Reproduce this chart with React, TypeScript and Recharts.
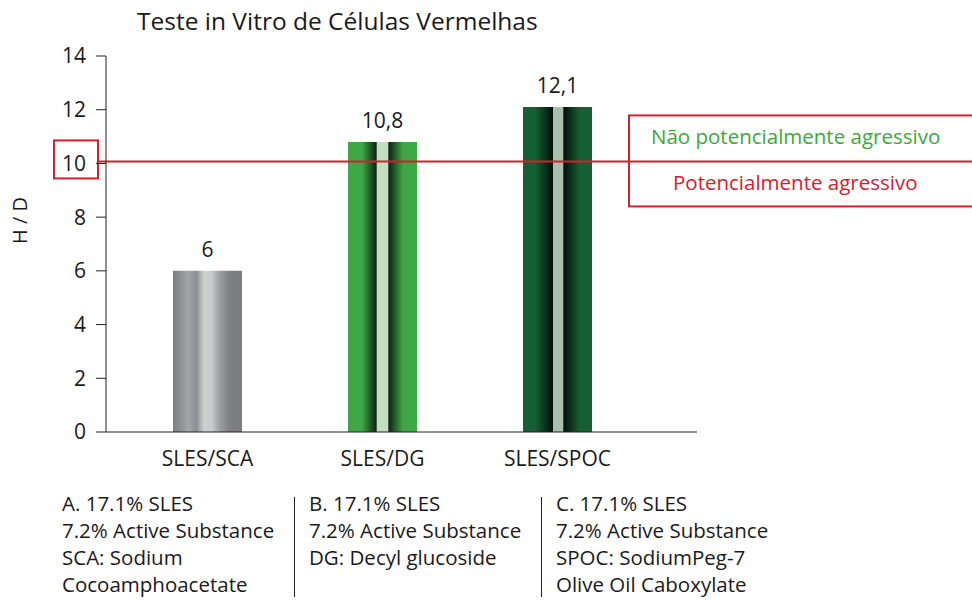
import React from "react";
import {
  BarChart,
  Bar,
  XAxis,
  YAxis,
  Cell,
  LabelList,
  ReferenceLine,
} from "recharts";

const categories = ["SLES/SCA", "SLES/DG", "SLES/SPOC"];
const hdValues = [6, 10.8, 12.1];
const yTicks = [0, 2, 4, 6, 8, 10, 12, 14];
const threshold = 10;
const aboveLabel = "Não potencialmente agressivo";
const belowLabel = "Potencialmente agressivo";
const notes = [
  ["A. 17.1% SLES", "7.2% Active Substance", "SCA: Sodium", "Cocoamphoacetate"],
  ["B. 17.1% SLES", "7.2% Active Substance", "DG: Decyl glucoside"],
  ["C. 17.1% SLES", "7.2% Active Substance", "SPOC: SodiumPeg-7", "Olive Oil Caboxylate"],
];

const data = categories.map((name, i) => ({ name, value: hdValues[i] }));

const FONT = "'Open Sans', Lato, sans-serif";
const RED = "#d3202f";
const GREEN = "#3aaa35";

// custom shape: threshold line + the two red boxes
const ThresholdShape = (props: any) => {
  const { x1, y1 } = props;
  const y = y1 - 2;
  return (
    <g>
      <line x1={x1 - 9} y1={y} x2={972} y2={y} stroke={RED} strokeWidth={2} />
      <rect x={x1 - 52} y={y - 21} width={44} height={38} fill="none" stroke={RED} strokeWidth={2} />
      <rect x={629} y={y - 46} width={360} height={91} fill="none" stroke={RED} strokeWidth={2} />
      <text x={651} y={y - 17} fill={GREEN} fontSize={20.5} fontFamily={FONT}>
        {aboveLabel}
      </text>
      <text x={673} y={y + 29} fill={RED} fontSize={20.5} fontFamily={FONT}>
        {belowLabel}
      </text>
    </g>
  );
};

export default function App() {
  return (
    <div style={{ position: "absolute", left: 0, top: 0, width: 972, height: 601, background: "#fff", fontFamily: FONT, color: "#1a1a1a" }}>
      <div style={{ position: "absolute", left: 137, top: 4, fontSize: 24.5 }}>
        Teste in Vitro de Células Vermelhas
      </div>
      <BarChart
        width={972}
        height={601}
        data={data}
        margin={{ top: 56, right: 275, left: 0, bottom: 139 }}
        style={{ position: "absolute", left: 0, top: 0 }}
      >
        <defs>
          <linearGradient id="g0" x1="0" y1="0" x2="1" y2="0">
            <stop offset="0%" stopColor="#7a7d80" />
            <stop offset="22%" stopColor="#a3a5a7" />
            <stop offset="34%" stopColor="#8d9093" />
            <stop offset="45%" stopColor="#cfd0d1" />
            <stop offset="56%" stopColor="#c9cacb" />
            <stop offset="68%" stopColor="#9c9ea0" />
            <stop offset="82%" stopColor="#7d8083" />
            <stop offset="100%" stopColor="#7a7d80" />
          </linearGradient>
          <linearGradient id="g1" x1="0" y1="0" x2="1" y2="0">
            <stop offset="0%" stopColor="#3fa846" />
            <stop offset="20%" stopColor="#3fa846" />
            <stop offset="41%" stopColor="#0b2612" />
            <stop offset="42%" stopColor="#c6dcc1" />
            <stop offset="58%" stopColor="#c6dcc1" />
            <stop offset="59%" stopColor="#0b2612" />
            <stop offset="80%" stopColor="#3fa846" />
            <stop offset="100%" stopColor="#3fa846" />
          </linearGradient>
          <linearGradient id="g2" x1="0" y1="0" x2="1" y2="0">
            <stop offset="0%" stopColor="#145f33" />
            <stop offset="18%" stopColor="#145f33" />
            <stop offset="43%" stopColor="#02100a" />
            <stop offset="44%" stopColor="#a9bfa9" />
            <stop offset="58%" stopColor="#a9bfa9" />
            <stop offset="59%" stopColor="#02100a" />
            <stop offset="82%" stopColor="#145f33" />
            <stop offset="100%" stopColor="#145f33" />
          </linearGradient>
        </defs>
        <XAxis
          dataKey="name"
          padding={{ left: 14, right: 52 }}
          tickLine={false}
          tickSize={0}
          tickMargin={19}
          height={30}
          axisLine={{ stroke: "#222" }}
          tick={{ fontSize: 21, fill: "#1a1a1a", fontFamily: FONT }}
        />
        <YAxis
          domain={[0, 14]}
          ticks={yTicks}
          width={106}
          tickSize={10}
          tickMargin={10}
          axisLine={{ stroke: "#222" }}
          tickLine={{ stroke: "#222" }}
          tick={{ fontSize: 21, fill: "#1a1a1a", fontFamily: FONT }}
          label={{ value: "H / D", angle: -90, position: "insideLeft", offset: 20, fontSize: 20, fill: "#1a1a1a", fontFamily: FONT }}
        />
        <ReferenceLine y={threshold} shape={ThresholdShape} ifOverflow="visible" />
        <Bar dataKey="value" barSize={69} isAnimationActive={false}>
          {data.map((_, i) => (
            <Cell key={i} fill={`url(#g${i})`} />
          ))}
          <LabelList
            dataKey="value"
            position="top"
            offset={14}
            formatter={(v: any) => String(v).replace(".", ",")}
            style={{ fontSize: 21, fill: "#1a1a1a", fontFamily: FONT }}
          />
        </Bar>
      </BarChart>
      {notes.map((col, i) => (
        <div
          key={i}
          style={{
            position: "absolute",
            left: 62 + i * 247,
            top: 490,
            fontSize: 20.5,
            lineHeight: "27px",
          }}
        >
          {col.map((t, j) => (
            <div key={j}>{t}</div>
          ))}
        </div>
      ))}
      <div style={{ position: "absolute", left: 294, top: 497, width: 1, height: 100, background: "#222" }} />
      <div style={{ position: "absolute", left: 541, top: 497, width: 1, height: 100, background: "#222" }} />
    </div>
  );
}
